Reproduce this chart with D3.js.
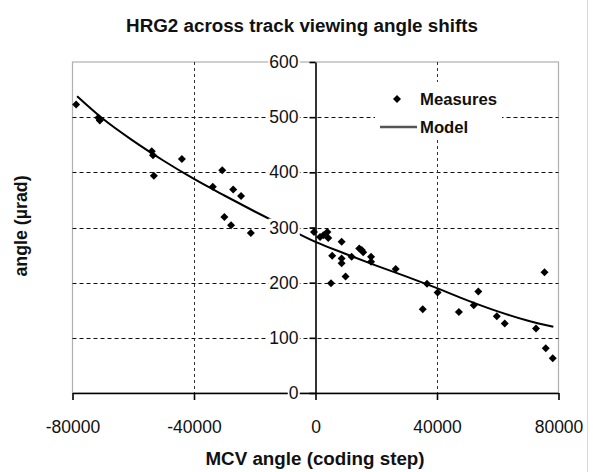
<!DOCTYPE html>
<html>
<head>
<meta charset="utf-8">
<script src="https://cdn.jsdelivr.net/npm/d3@7"></script>
<style>
  body { margin: 0; background: #fff; }
  svg { font-family: "Liberation Sans", Arial, sans-serif; }
</style>
</head>
<body>
<svg id="chart" width="593" height="472"></svg>
<script>
// measured points (MCV angle, angle in urad)
const measX = [-78800, -71500, -71000, -53900, -53500, -44000, -53200, -30700, -33800, -27100,
               -24500, -30000, -27800, -21300, -500, 2600, 3900, 4200, 1500, 5500,
               8600, 8600, 8600, 11900, 9900, 5100, 14400, 15200, 15700, 18300,
               18300, 26400, 35300, 36700, 40200, 47200, 53600, 52100, 59700, 62300,
               72600, 75400, 75800, 78100];
const measY = [523, 499, 494, 438, 431, 424, 394, 404, 374, 369,
               357, 319, 304, 290, 292, 286, 292, 281, 283, 249,
               274, 244, 235, 247, 211, 199, 262, 259, 255, 247,
               238, 225, 152, 198, 182, 147, 184, 159, 139, 126,
               117, 219, 81, 63];

// model curve
const modelX = [-78500, -70000, -60000, -50000, -40000, -30000, -20000, -10000, 0,
                10000, 20000, 30000, 40000, 50000, 60000, 70000, 78300];
const modelY = [538, 497, 457, 421, 388, 358, 329, 301, 274,
                252, 231, 211, 190, 168, 148, 131, 120];

const xTicks = [-80000, -40000, 0, 40000, 80000];
const yTicks = [0, 100, 200, 300, 400, 500, 600];
const yGrid = [100, 200, 300, 400, 500];
const xGrid = [-40000, 40000];

const svg = d3.select("#chart");
const x = d3.scaleLinear().domain([-80000, 80000]).range([72.5, 558.5]);
const y = d3.scaleLinear().domain([0, 600]).range([393, 62]);

// outer frame line at the right edge
svg.append("line").attr("x1", 587.5).attr("x2", 587.5).attr("y1", 0).attr("y2", 472)
  .attr("stroke", "#d8d8d8");

// plot area border
svg.append("rect")
  .attr("x", x(-80000)).attr("y", y(600))
  .attr("width", x(80000) - x(-80000)).attr("height", y(0) - y(600))
  .attr("fill", "none").attr("stroke", "#b0b0b0").attr("stroke-width", 1.2);

// grid
svg.selectAll(".hg").data(yGrid).join("line")
  .attr("x1", x(-80000)).attr("x2", x(80000))
  .attr("y1", d => Math.round(y(d)) + 0.5).attr("y2", d => Math.round(y(d)) + 0.5)
  .attr("stroke", "#111").attr("stroke-dasharray", "4,3");
svg.selectAll(".vg").data(xGrid).join("line")
  .attr("x1", d => Math.round(x(d)) + 0.5).attr("x2", d => Math.round(x(d)) + 0.5)
  .attr("y1", y(600)).attr("y2", y(0))
  .attr("stroke", "#333").attr("stroke-dasharray", "3,3");

// legend background (hides the grid behind)
svg.append("rect").attr("x", 375).attr("y", 82).attr("width", 127).attr("height", 56)
  .attr("fill", "#fff");

// model line
const line = d3.line().x(d => x(d[0])).y(d => y(d[1])).curve(d3.curveMonotoneX);
svg.append("path")
  .datum(d3.zip(modelX, modelY))
  .attr("d", line)
  .attr("fill", "none").attr("stroke", "#000").attr("stroke-width", 2);

// axes
const xAxis = svg.append("g")
  .attr("transform", `translate(0,${y(0)})`)
  .call(d3.axisBottom(x).tickValues(xTicks).tickFormat(d => String(d))
    .tickSize(7).tickSizeOuter(0).tickPadding(21));
const yAxis = svg.append("g")
  .attr("transform", `translate(${x(0)},0)`)
  .call(d3.axisLeft(y).tickValues(yTicks).tickFormat(d => String(d))
    .tickSize(6).tickSizeOuter(0).tickPadding(11));

[xAxis, yAxis].forEach(g => {
  g.attr("font-family", null).attr("font-size", null);
  g.selectAll("path, line").attr("stroke", "#000").attr("stroke-width", 1.6);
  g.selectAll("text").attr("font-size", 17.5).attr("fill", "#111");
});

// white boxes behind y tick labels
yAxis.selectAll(".tick").each(function() {
  const t = d3.select(this).select("text");
  const b = t.node().getBBox();
  d3.select(this).insert("rect", "text")
    .attr("x", b.x - 1).attr("y", b.y + 1).attr("width", b.width + 2).attr("height", b.height - 2)
    .attr("fill", "#fff");
});

// measured points
const diamond = "M0,-4L4,0L0,4L-4,0Z";
svg.selectAll(".pt").data(d3.zip(measX, measY)).join("path")
  .attr("d", diamond)
  .attr("transform", d => `translate(${x(d[0])},${y(d[1])})`)
  .attr("fill", "#000");

// legend
svg.append("path").attr("d", diamond).attr("transform", "translate(397,99)").attr("fill", "#000");
svg.append("text").attr("x", 420).attr("y", 105).attr("font-size", 16.7).attr("font-weight", "bold")
  .attr("fill", "#111").text("Measures");
svg.append("line").attr("x1", 380).attr("x2", 417).attr("y1", 127).attr("y2", 127)
  .attr("stroke", "#555").attr("stroke-width", 2.5);
svg.append("text").attr("x", 420).attr("y", 133).attr("font-size", 16.7).attr("font-weight", "bold")
  .attr("fill", "#111").text("Model");

// titles
svg.append("text").attr("x", 302).attr("y", 32).attr("text-anchor", "middle")
  .attr("font-size", 18.8).attr("font-weight", "bold").attr("fill", "#111")
  .text("HRG2 across track viewing angle shifts");
svg.append("text").attr("x", 315).attr("y", 465).attr("text-anchor", "middle")
  .attr("font-size", 18.8).attr("font-weight", "bold").attr("fill", "#111")
  .text("MCV angle (coding step)");
svg.append("text").attr("transform", "translate(27,226) rotate(-90)").attr("text-anchor", "middle")
  .attr("font-size", 17.8).attr("font-weight", "bold").attr("fill", "#111")
  .text("angle (µrad)");
</script>
</body>
</html>
